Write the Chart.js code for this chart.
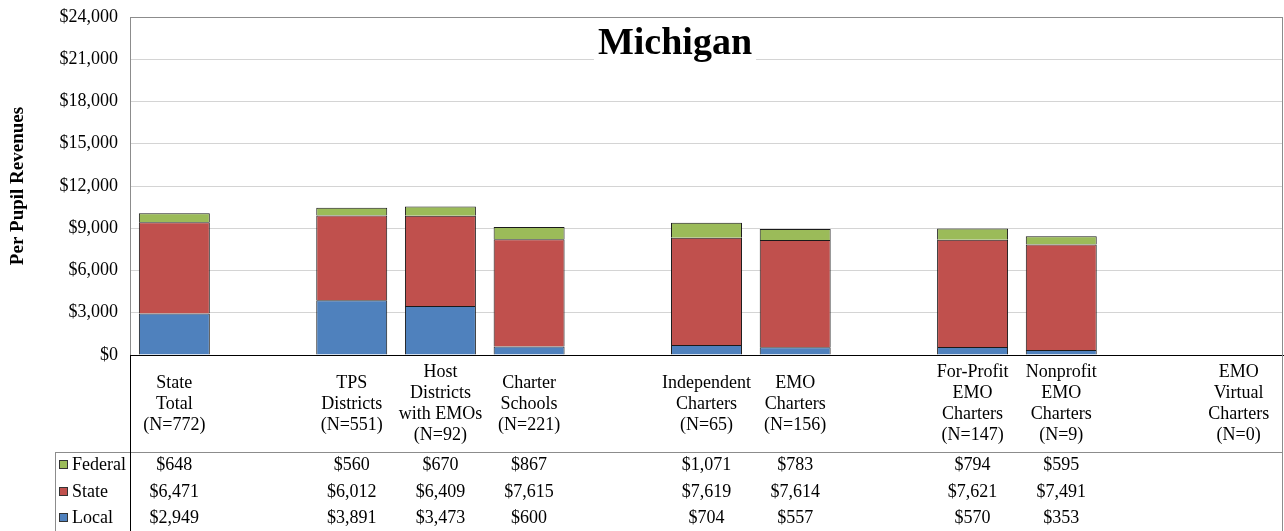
<!DOCTYPE html>
<html>
<head>
<meta charset="utf-8">
<title>Michigan</title>
<script src="https://cdn.jsdelivr.net/npm/chart.js@4.4.1/dist/chart.umd.min.js"></script>
<style>
  body { margin: 0; background: #fff; }
</style>
</head>
<body>
<canvas id="grafico" width="1284" height="531"></canvas>
<script>
// categories; the empty ones are the gaps between groups
const categorias = [
  ['State', 'Total', '(N=772)'],
  [],
  ['TPS', 'Districts', '(N=551)'],
  ['Host', 'Districts', 'with EMOs', '(N=92)'],
  ['Charter', 'Schools', '(N=221)'],
  [],
  ['Independent', 'Charters', '(N=65)'],
  ['EMO', 'Charters', '(N=156)'],
  [],
  ['For-Profit', 'EMO', 'Charters', '(N=147)'],
  ['Nonprofit', 'EMO', 'Charters', '(N=9)'],
  [],
  ['EMO', 'Virtual', 'Charters', '(N=0)']
];
const local   = [2949, null, 3891, 3473, 600, null, 704, 557, null, 570, 353, null, null];
const state   = [6471, null, 6012, 6409, 7615, null, 7619, 7614, null, 7621, 7491, null, null];
const federal = [648, null, 560, 670, 867, null, 1071, 783, null, 794, 595, null, null];
const yTicks  = [0, 3000, 6000, 9000, 12000, 15000, 18000, 21000, 24000];
const titulo  = 'Michigan';

const SERIF = "'Liberation Serif', 'Times New Roman', serif";
const colores = { Local: '#4F81BD', State: '#C0504D', Federal: '#9BBB59' };

const dinero = v => '$' + v.toLocaleString('en-US');

// labels under the axis, the data table and the title
const tablaPlugin = {
  id: 'tabla',
  afterDraw(chart) {
    const ctx = chart.ctx;
    const x = chart.scales.x;
    const area = chart.chartArea;
    const H = chart.height;

    ctx.save();
    // category labels
    ctx.fillStyle = '#000';
    ctx.font = '18px ' + SERIF;
    ctx.textAlign = 'center';
    ctx.textBaseline = 'middle';
    categorias.forEach((lineas, i) => {
      const px = x.getPixelForValue(i);
      const y0 = 404 - (lineas.length - 1) * 21 / 2;
      lineas.forEach((t, j) => ctx.fillText(t, px, y0 + j * 21));
    });

    // table lines
    ctx.lineWidth = 1;
    ctx.strokeStyle = '#8c8c8c';
    ctx.beginPath();
    ctx.moveTo(55, 452.5); ctx.lineTo(area.right, 452.5);
    ctx.moveTo(55.5, 452); ctx.lineTo(55.5, H);
    ctx.moveTo(area.right - 0.5, area.top); ctx.lineTo(area.right - 0.5, H);
    ctx.stroke();
    ctx.strokeStyle = '#000';
    ctx.beginPath();
    ctx.moveTo(area.left + 0.5, area.bottom); ctx.lineTo(area.left + 0.5, H);
    ctx.stroke();

    // table rows
    const filas = [
      ['Federal', federal, 465],
      ['State', state, 492],
      ['Local', local, 518]
    ];
    filas.forEach(([nombre, datos, y]) => {
      ctx.fillStyle = colores[nombre];
      ctx.fillRect(59, y - 5, 8, 8);
      ctx.strokeStyle = '#333';
      ctx.strokeRect(59.5, y - 4.5, 8, 8);
      ctx.fillStyle = '#000';
      ctx.textAlign = 'left';
      ctx.fillText(nombre, 72, y);
      ctx.textAlign = 'center';
      datos.forEach((v, i) => {
        if (v !== null) ctx.fillText(dinero(v), x.getPixelForValue(i), y);
      });
    });

    // title with white box over the grid
    ctx.font = 'bold 38px ' + SERIF;
    const w = ctx.measureText(titulo).width;
    ctx.fillStyle = '#fff';
    ctx.fillRect(675 - w / 2 - 4, 22, w + 8, 42);
    ctx.fillStyle = '#000';
    ctx.fillText(titulo, 675, 44);
    ctx.restore();
  }
};

new Chart(document.getElementById('grafico'), {
  type: 'bar',
  data: {
    labels: categorias.map(c => c.join(' ')),
    datasets: [
      { label: 'Local', data: local, backgroundColor: colores.Local },
      { label: 'State', data: state, backgroundColor: colores.State },
      { label: 'Federal', data: federal, backgroundColor: colores.Federal }
    ].map(d => Object.assign(d, { borderColor: '#1a1a1a', borderWidth: 1 }))
  },
  options: {
    responsive: false,
    animation: false,
    layout: { padding: { top: 17, right: 1, left: 0, bottom: 0 } },
    categoryPercentage: 1,
    barPercentage: 0.8,
    plugins: {
      legend: { display: false },
      tooltip: { enabled: false }
    },
    scales: {
      x: {
        stacked: true,
        grid: { display: false, drawTicks: false },
        border: { color: '#000' },
        ticks: { display: false },
        afterFit: s => { s.height = 176; s.paddingLeft = 0; s.paddingRight = 0; }
      },
      y: {
        stacked: true,
        min: 0,
        max: 24000,
        afterBuildTicks: s => { s.ticks = yTicks.map(v => ({ value: v })); },
        afterFit: s => { s.width = 130; s.paddingTop = 0; s.paddingBottom = 0; },
        border: { color: '#8c8c8c' },
        grid: {
          drawTicks: false,
          color: c => c.tick.value === 24000 ? '#8c8c8c' : (c.tick.value === 0 ? '#000' : '#d4d4d4')
        },
        ticks: {
          padding: 12,
          color: '#000',
          font: { family: SERIF, size: 18 },
          callback: v => dinero(v)
        },
        title: {
          display: true,
          text: 'Per Pupil Revenues',
          color: '#000',
          font: { family: SERIF, size: 19, weight: 'bold' },
          padding: { top: 7, bottom: 0 }
        }
      }
    }
  },
  plugins: [tablaPlugin]
});
</script>
</body>
</html>
